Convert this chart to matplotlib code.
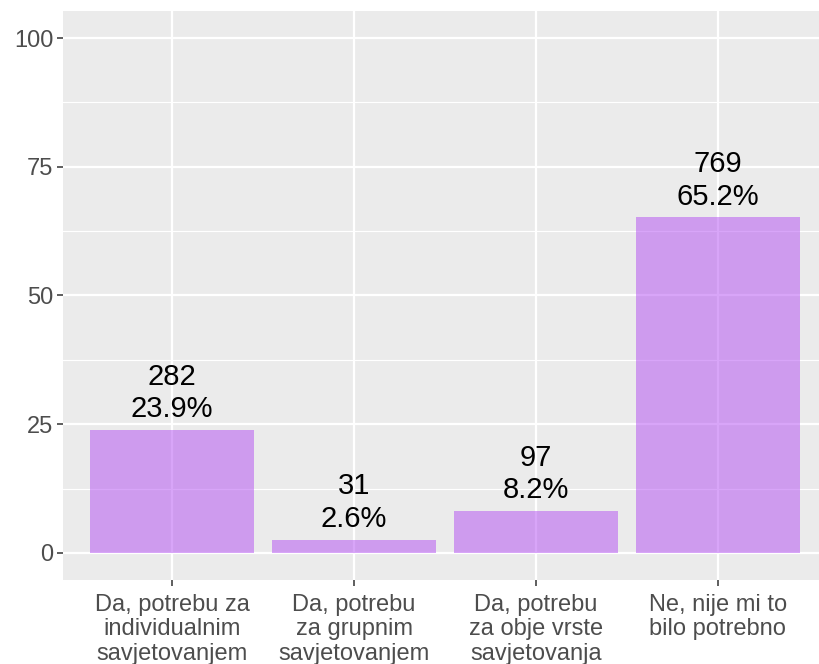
import matplotlib
matplotlib.use("Agg")
import matplotlib.pyplot as plt
from matplotlib.ticker import MultipleLocator

categories = ["Da, potrebu za\nindividualnim\nsavjetovanjem",
              "Da, potrebu\nza grupnim\nsavjetovanjem",
              "Da, potrebu\nza obje vrste\nsavjetovanja",
              "Ne, nije mi to\nbilo potrebno"]
counts = [282, 31, 97, 769]
percents = [23.9, 2.6, 8.2, 65.2]

plt.rcParams['font.family'] = ['Liberation Sans', 'DejaVu Sans']

fig = plt.figure(figsize=(8.19, 6.64), dpi=100)
# panel runs a little past the right edge, as in the original crop
ax = fig.add_axes([63 / 819, 84 / 664, 764 / 819, 569 / 664])
ax.set_facecolor('#EBEBEB')
for s in ax.spines.values():
    s.set_visible(False)

x = list(range(1, len(categories) + 1))
ax.bar(x, percents, width=0.9, color='#B34DF2', alpha=0.5, zorder=3, linewidth=0)

for xi, c, p in zip(x, counts, percents):
    ax.text(xi, p + 1.3, f"{c}\n{p}%", ha='center', va='bottom', fontsize=21,
            color='black', linespacing=1.2, zorder=4)

ax.set_xlim(0.4, 4.6)
ax.set_ylim(-5.25, 105.25)
ax.yaxis.set_major_locator(MultipleLocator(25))
ax.yaxis.set_minor_locator(MultipleLocator(12.5))
ax.set_xticks(x)
ax.set_xticklabels(categories, linespacing=1.15, va='top')
ax.grid(which='major', color='white', linewidth=1.6, zorder=1)
ax.grid(which='minor', axis='y', color='white', linewidth=0.8, zorder=1)
ax.set_axisbelow(True)
ax.tick_params(which='major', length=4, width=1.1, color='#333333',
               labelcolor='#4D4D4D', labelsize=17, pad=3)
ax.tick_params(axis='x', pad=6)
ax.tick_params(which='minor', length=0)

fig.savefig("out.png", dpi=100)
